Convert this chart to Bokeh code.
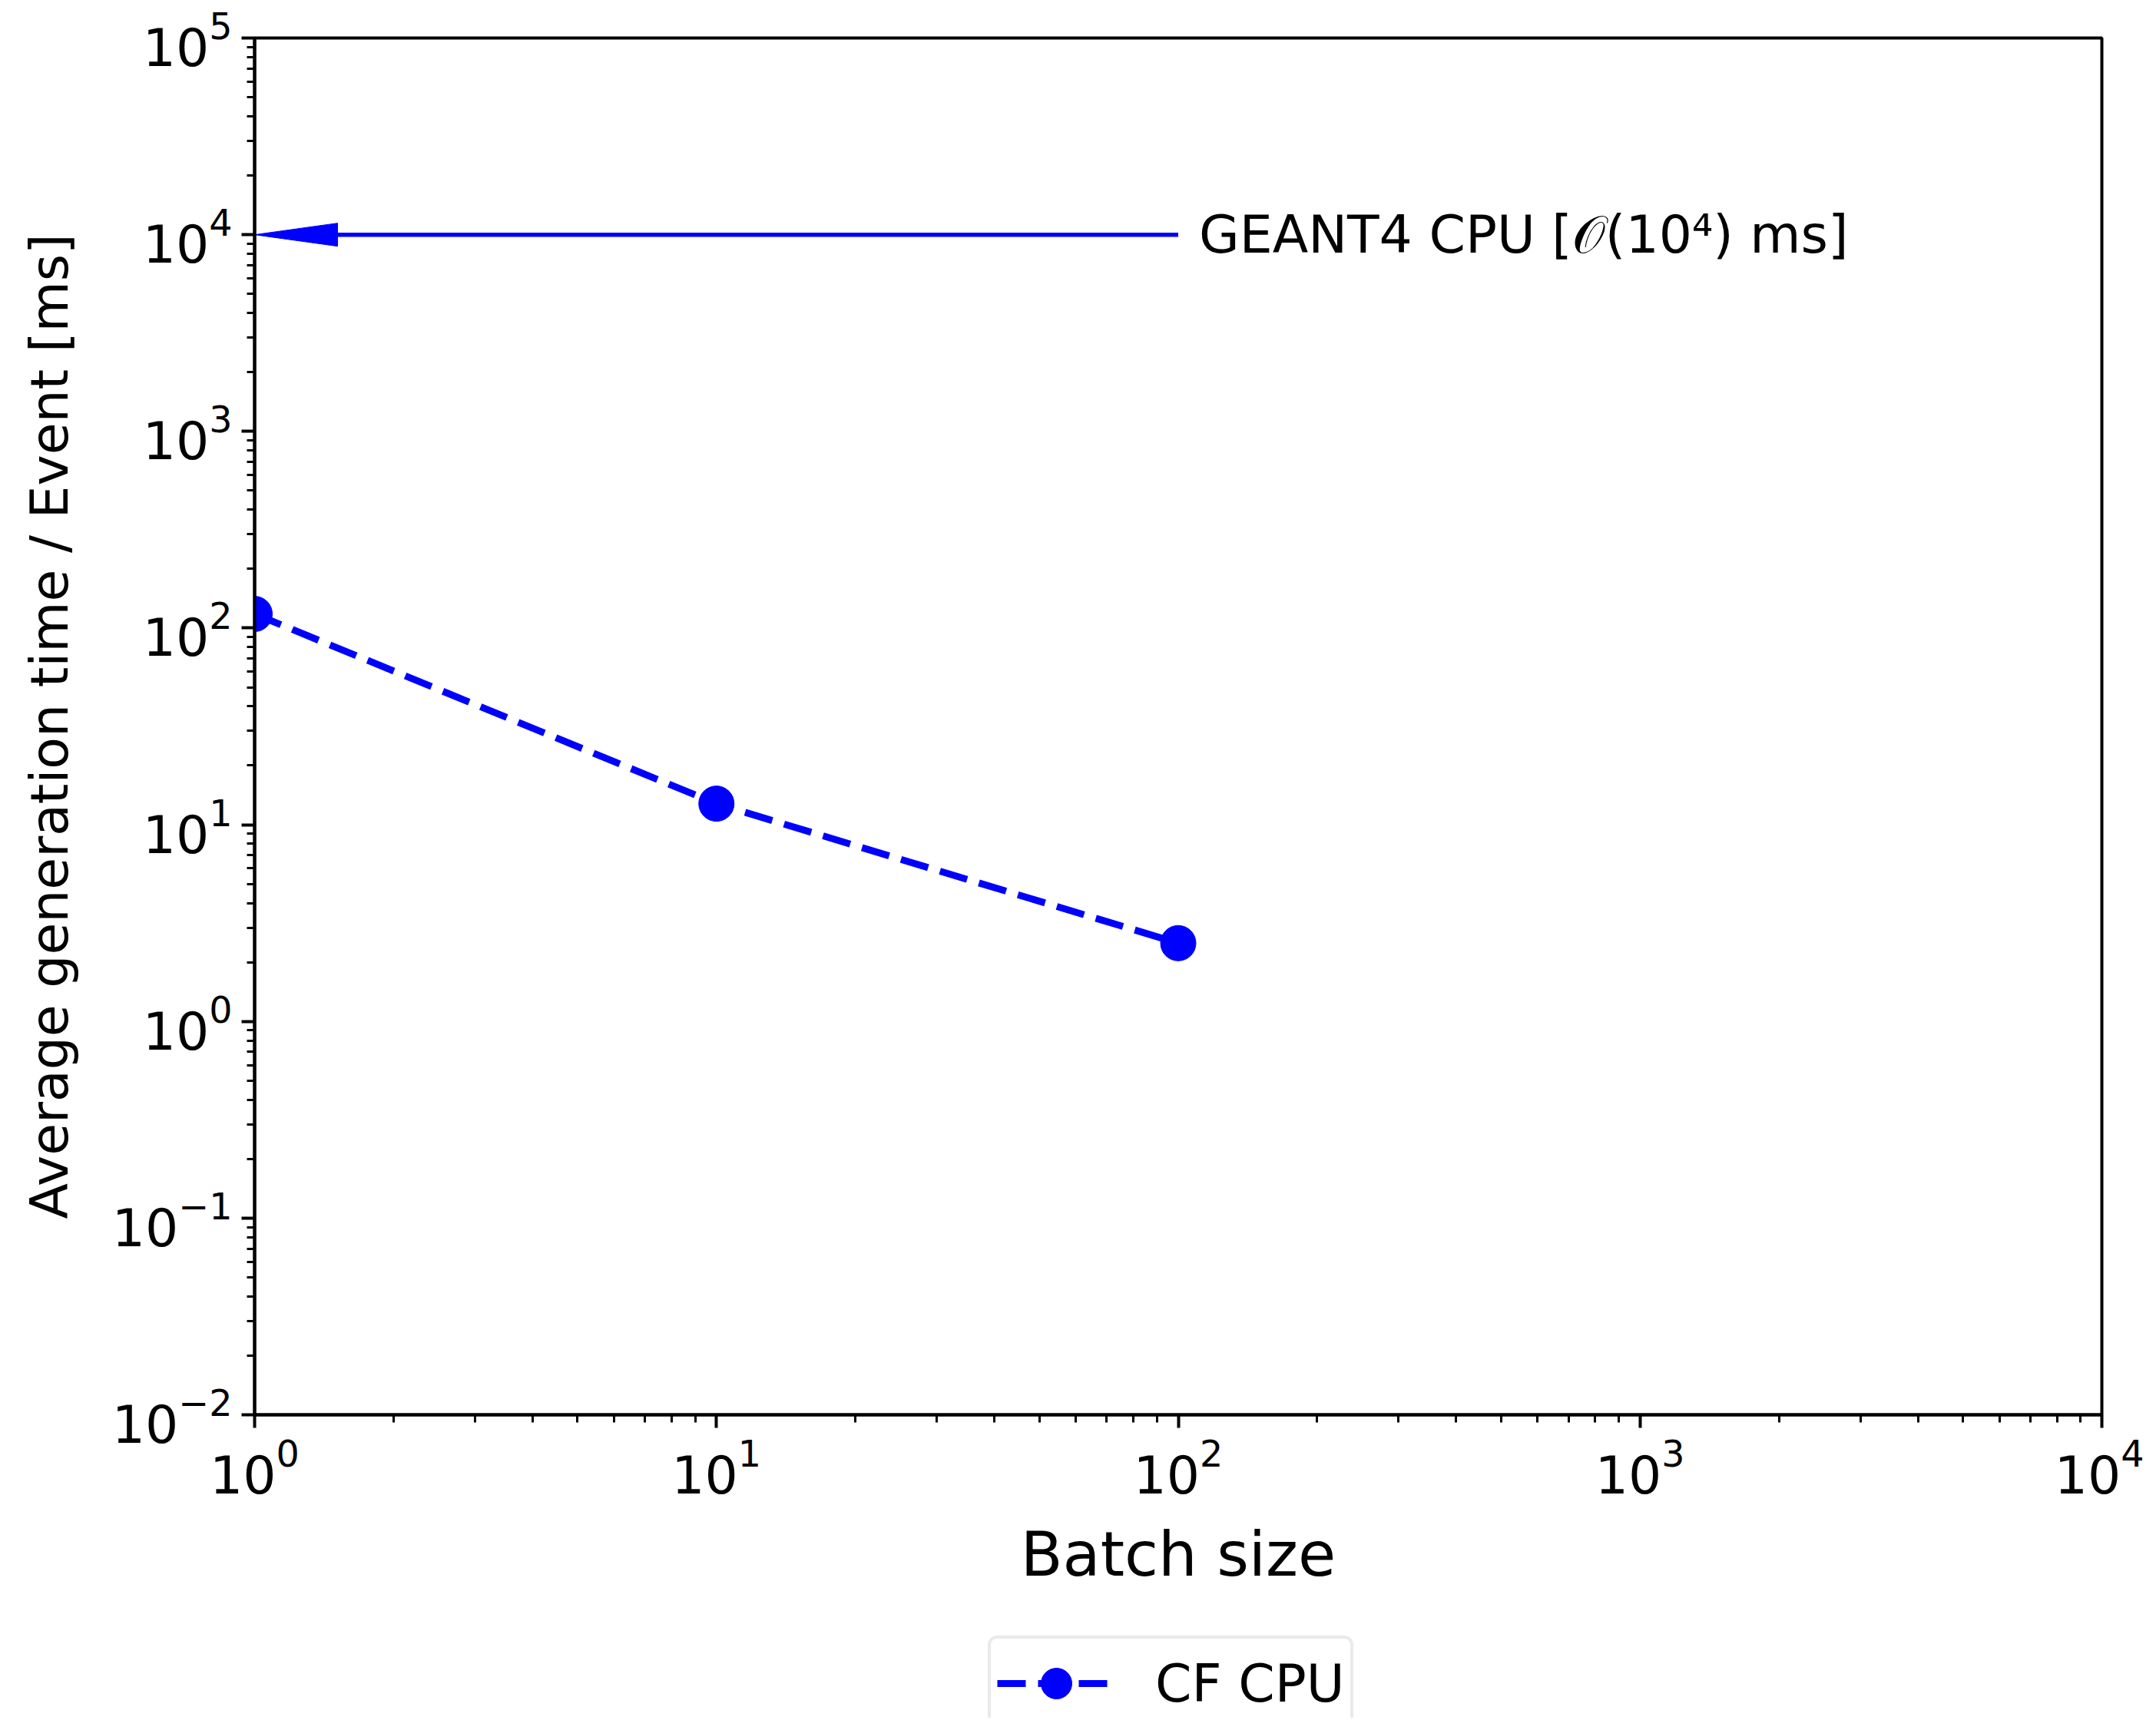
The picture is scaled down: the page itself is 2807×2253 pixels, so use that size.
import numpy as np
from bokeh.plotting import figure
from bokeh.layouts import column
from bokeh.models import (Range1d, FixedTicker, LogTickFormatter, Label, Legend,
                          LegendItem)
from bokeh.embed import file_html
from bokeh.resources import INLINE

# ---- data ----
batch_size = [1, 10, 100]
cf_cpu_ms = [118, 12.8, 2.5]
geant4_ms = 1e4
geant4_from_batch = 100
geant4_to_batch = 1
geant4_label = "GEANT4 CPU [𝒪(10⁴) ms]"
series_label = "CF CPU"
x_decades = [0, 1, 2, 3, 4]
y_decades = [-2, -1, 0, 1, 2, 3, 4, 5]
x_title = "Batch size"
y_title = "Average generation time / Event [ms]"

# ---- layout ----
W, H_TOTAL = 2791, 2237
H1 = 2120
ML, MT = 331, 49
FRAME_W, FRAME_H = 2405, 1793
MR = W - ML - FRAME_W
MB = H1 - MT - FRAME_H
FONT = "DejaVu Sans"
BLUE = "#0000ff"

p = figure(width=W, height=H1, x_axis_type="log", y_axis_type="log",
           x_range=Range1d(10.0 ** x_decades[0], 10.0 ** x_decades[-1]),
           y_range=Range1d(10.0 ** y_decades[0], 10.0 ** y_decades[-1]),
           output_backend="svg", toolbar_location=None,
           min_border_left=ML, min_border_right=MR,
           min_border_top=MT, min_border_bottom=MB)
p.grid.visible = False
p.background_fill_color = "white"
p.border_fill_color = "white"
p.outline_line_color = "black"
p.outline_line_width = 4
p.outline_line_alpha = 1

# ticks
xmaj = [10.0 ** d for d in x_decades]
xmin = [m * 10.0 ** d for d in x_decades[:-1] for m in range(2, 10)]
ymaj = [10.0 ** d for d in y_decades]
ymin = [m * 10.0 ** d for d in y_decades[:-1] for m in range(2, 10)]
p.xaxis.ticker = FixedTicker(ticks=xmaj, minor_ticks=xmin)
p.yaxis.ticker = FixedTicker(ticks=ymaj, minor_ticks=ymin)
p.xaxis.formatter = LogTickFormatter()
p.yaxis.formatter = LogTickFormatter()

for ax in (p.xaxis[0], p.yaxis[0]):
    ax.axis_line_width = 4
    ax.axis_line_color = "black"
    ax.major_tick_line_width = 4
    ax.major_tick_out = 17
    ax.major_tick_in = 0
    ax.minor_tick_line_width = 3
    ax.minor_tick_out = 10
    ax.minor_tick_in = 0
    ax.major_label_text_font = FONT
    ax.major_label_text_font_size = "68px"
    ax.major_label_text_color = "black"
    ax.major_label_standoff = 12
    ax.axis_label_text_font = FONT
    ax.axis_label_text_font_style = "normal"
    ax.axis_label_text_color = "black"

p.xaxis.axis_label = x_title
p.xaxis.axis_label_text_font_size = "80px"
p.xaxis.axis_label_standoff = 30
p.yaxis.axis_label = y_title
p.yaxis.axis_label_text_font_size = "68px"
p.yaxis.axis_label_standoff = 39

# ---- data series ----
p.line(batch_size, cf_cpu_ms, line_color=BLUE, line_width=9, line_dash="37 16")
p.scatter(batch_size, cf_cpu_ms, size=46, fill_color=BLUE, line_color=BLUE)

# ---- GEANT4 arrow annotation ----
px_dec_x = FRAME_W / (x_decades[-1] - x_decades[0])
px_dec_y = FRAME_H / (y_decades[-1] - y_decades[0])
head_len, head_half = 108, 15
base_x = geant4_to_batch * 10 ** (head_len / px_dec_x)
p.line([geant4_from_batch, base_x], [geant4_ms, geant4_ms], line_color=BLUE, line_width=5.5)
p.patch([geant4_to_batch, base_x, base_x],
        [geant4_ms, geant4_ms * 10 ** (head_half / px_dec_y), geant4_ms / 10 ** (head_half / px_dec_y)],
        fill_color=BLUE, line_color=BLUE, line_width=1)
p.add_layout(Label(x=geant4_from_batch, y=geant4_ms, x_offset=27, text=geant4_label,
                   text_baseline="middle", text_align="left", text_font=FONT,
                   text_font_size="68px", text_color="black"))

# ---- legend strip below the plot (series drawn out of its view, legend only) ----
H2 = H_TOTAL - H1
p2 = figure(width=W, height=H2, x_range=Range1d(-2, -1), y_range=Range1d(-2, -1),
            output_backend="svg", toolbar_location=None,
            x_axis_location=None, y_axis_location=None, min_border=0)
p2.grid.visible = False
p2.outline_line_color = None
p2.background_fill_color = "white"
p2.border_fill_color = "white"
l2 = p2.line(batch_size, cf_cpu_ms, line_color=BLUE, line_width=9, line_dash="37 16")
s2 = p2.scatter(batch_size, cf_cpu_ms, size=46, fill_color=BLUE, line_color=BLUE)
leg = Legend(items=[LegendItem(label=series_label, renderers=[l2, s2])],
             location=(955, -17), orientation="horizontal")
leg.label_text_font = FONT
leg.label_text_font_size = "68px"
leg.label_text_color = "black"
leg.padding = 8
leg.margin = 0
leg.glyph_width = 154
leg.glyph_height = 100
leg.label_standoff = 52
leg.border_line_color = "#d6d6d6"
leg.border_line_width = 4
leg.background_fill_color = "white"
leg.background_fill_alpha = 1
if "border_radius" in Legend.properties():
    leg.border_radius = 12
p2.add_layout(leg, "center")

layout = column(p, p2, spacing=0)
open("out.html", "w").write(file_html(layout, INLINE))
